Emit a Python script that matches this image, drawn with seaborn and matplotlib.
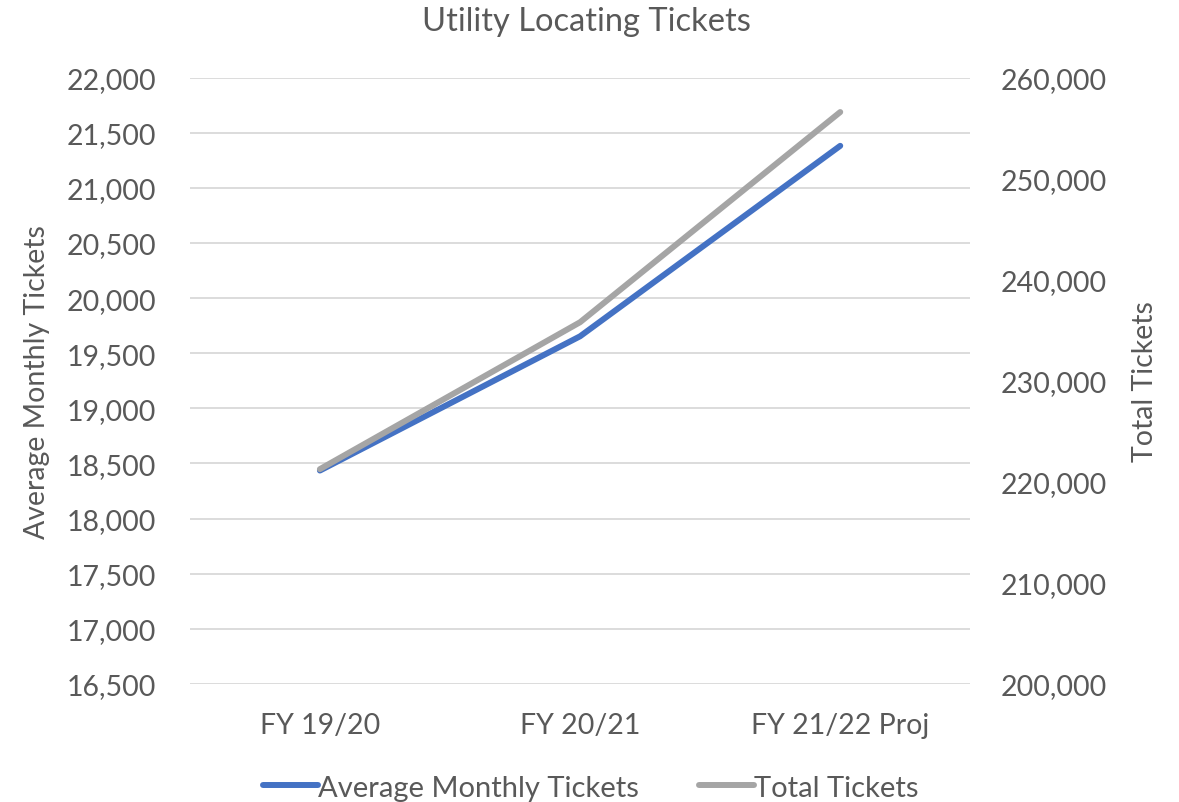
import matplotlib
matplotlib.use('Agg')
import matplotlib.pyplot as plt
import seaborn as sns
import pandas as pd
from matplotlib.ticker import FuncFormatter, MultipleLocator

# Data
years = ['FY 19/20', 'FY 20/21', 'FY 21/22 Proj']
avg_monthly = [18436, 19654, 21382]
total_tickets = [221260, 235800, 256600]

df = pd.DataFrame({'Year': years, 'Avg': avg_monthly, 'Total': total_tickets})

sns.set_style('white')
plt.rcParams['font.family'] = ['Lato', 'DejaVu Sans']
text_col = '#595959'
blue = '#4472C4'
gray = '#A5A5A5'

fig = plt.figure(figsize=(11.79, 8.03), dpi=100)
ax = fig.add_axes([0.161, 0.147, 0.662, 0.755])
ax2 = ax.twinx()

sns.lineplot(data=df, x='Year', y='Avg', ax=ax, color=blue, linewidth=4.3,
             solid_capstyle='round', sort=False, label='Average Monthly Tickets', legend=False)
sns.lineplot(data=df, x='Year', y='Total', ax=ax2, color=gray, linewidth=4.3,
             solid_capstyle='round', sort=False, label='Total Tickets', legend=False)

ax.set_xlim(-0.5, 2.5)
ax.set_ylim(16500, 22000)
ax.yaxis.set_major_locator(MultipleLocator(500))
ax2.set_ylim(200000, 260000)
ax2.yaxis.set_major_locator(MultipleLocator(10000))

fmt = FuncFormatter(lambda v, p: f'{int(v):,}')
ax.yaxis.set_major_formatter(fmt)
ax2.yaxis.set_major_formatter(fmt)

ax.grid(axis='y', color='#D9D9D9', linewidth=1.3)
ax.grid(axis='x', visible=False)
ax2.grid(False)
ax.set_axisbelow(True)

for a in (ax, ax2):
    for s in a.spines.values():
        s.set_visible(False)
    a.tick_params(length=0, labelsize=20.5, colors=text_col)

ax.tick_params(axis='x', pad=20)
ax.tick_params(axis='y', pad=24)
ax2.tick_params(axis='y', pad=22)

ax.set_xlabel('')
ax.set_ylabel('Average Monthly Tickets', fontsize=20.5, color=text_col, labelpad=12)
ax2.set_ylabel('Total Tickets', fontsize=20.5, color=text_col, labelpad=18)

fig.text(0.497, 0.972, 'Utility Locating Tickets', ha='center', va='center',
         fontsize=23.5, color=text_col)

h1, l1 = ax.get_legend_handles_labels()
h2, l2 = ax2.get_legend_handles_labels()
fig.legend(h1 + h2, l1 + l2, loc='center', bbox_to_anchor=(0.501, 0.018), ncol=2,
           frameon=False, fontsize=21, labelcolor=text_col, handlelength=1.9,
           handletextpad=0.0, columnspacing=2.05)

plt.savefig('out.png', dpi=100)
